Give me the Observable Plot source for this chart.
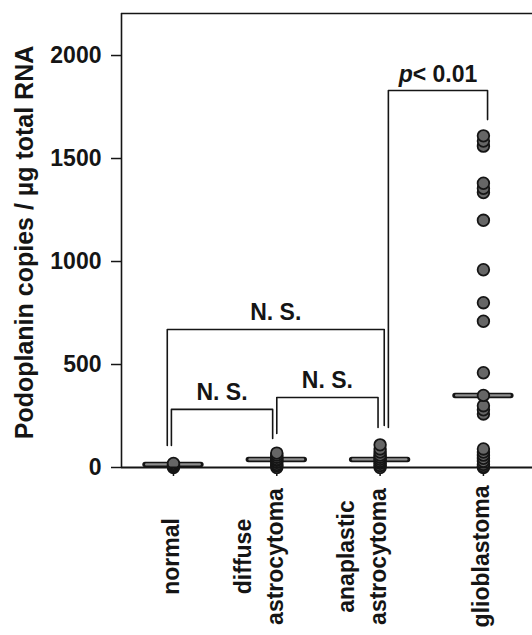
<!DOCTYPE html>
<html><head><meta charset="utf-8">
<script src="https://cdn.jsdelivr.net/npm/d3@7"></script>
<script src="https://cdn.jsdelivr.net/npm/@observablehq/plot@0.6"></script>
<style>body{margin:0;background:#fff} svg{display:block}</style>
</head><body><div id="chart"></div>
<script>
// ---- data ----
const categories = ["normal", "diffuse\nastrocytoma", "anaplastic\nastrocytoma", "glioblastoma"];
const normalValues = [0, 5, 10, 15, 20];
const diffuseValues = [0, 8, 15, 25, 35, 40, 50, 60, 70];
const anaplasticValues = [0, 10, 20, 30, 40, 50, 60, 75, 90, 110];
const glioblastomaValues = [0, 5, 15, 30, 45, 60, 75, 90, 260, 280, 300, 350, 460, 710, 800, 960, 1200, 1335, 1355, 1380, 1560, 1585, 1610];
const medians = [15, 39, 39, 350];
const yTicks = [0, 500, 1000, 1500, 2000];
const yLabel = "Podoplanin copies / µg total RNA";
const compFrom = [0, 1, 0, 2];
const compTo = [1, 2, 2, 3];
const compTop = [282, 340, 670, 1830];
const compLeftEnd = [107, 165, 107, 194];
const compRightEnd = [141, 194, 204, 1689];
const compLabels = ["N. S.", "N. S.", "N. S.", "p< 0.01"];

// ---- build tables ----
const groups = [normalValues, diffuseValues, anaplasticValues, glioblastomaValues];
const points = groups.flatMap((vals, i) => vals.map(v => ({i, v})));
const legShift = [[-0.02, -0.04], [0, -0.02], [-0.06, 0.04], [0.08, 0.04]];
const brackets = compFrom.flatMap((f, k) => {
  const xl = f + legShift[k][0], xr = compTo[k] + legShift[k][1];
  return [
    {k, x: xl, y: compLeftEnd[k]}, {k, x: xl, y: compTop[k]},
    {k, x: xr, y: compTop[k]}, {k, x: xr, y: compRightEnd[k]}
  ];
});
const bracketLabels = compFrom.map((f, k) => ({
  x: (f + legShift[k][0] + compTo[k] + legShift[k][1]) / 2, y: compTop[k], t: compLabels[k]
}));

const xDomain = [-0.503, 3.475];
const yDomain = [0, 2204];
const font = "'Liberation Sans', Arial, Helvetica, sans-serif";
const ink = "#151515";

const chart = Plot.plot({
  width: 532, height: 635,
  marginLeft: 121, marginRight: 0, marginTop: 13, marginBottom: 168,
  x: {type: "linear", domain: xDomain, axis: null},
  y: {type: "linear", domain: yDomain, axis: null},
  style: {fontFamily: font, background: "#fff", overflow: "visible"},
  marks: [
    Plot.ruleX([xDomain[0]], {stroke: ink, strokeWidth: 1.6}),
    Plot.ruleY([yDomain[1]], {stroke: ink, strokeWidth: 1.6}),
    Plot.axisY(yTicks, {tickSize: 10, tickPadding: 10, tickFormat: d3.format("d"), fontSize: 23, fontWeight: "bold", label: null, stroke: ink, strokeWidth: 1.5, fill: ink}),
    Plot.axisX([0, 1, 2, 3], {tickSize: 9, tickFormat: () => "", label: null, stroke: ink, strokeWidth: 1.5}),
    Plot.line(brackets, {x: "x", y: "y", z: "k", stroke: ink, strokeWidth: 1.6}),
    Plot.text(bracketLabels, {x: "x", y: "y", text: "t", textAnchor: "middle", lineAnchor: "bottom", dy: -9, fontSize: 23, fontWeight: "bold", fill: ink}),
    Plot.ruleY(medians, {y: d => d, x1: (d, i) => i - 0.27, x2: (d, i) => i + 0.27, stroke: ink, strokeWidth: 5.5, strokeLinecap: "round"}),
    Plot.ruleY(medians, {y: d => d, x1: (d, i) => i - 0.26, x2: (d, i) => i + 0.26, stroke: "#8f8f8f", strokeWidth: 2.2, strokeLinecap: "round"}),
    Plot.dot(points, {x: "i", y: "v", r: 5.8, fill: "#666", stroke: ink, strokeWidth: 1.8}),
    Plot.ruleY([0], {stroke: ink, strokeWidth: 2.2}),
    Plot.text(categories, {x: (d, i) => i, text: d => d, frameAnchor: "bottom", rotate: -90, textAnchor: "middle", lineAnchor: "bottom", lineHeight: 1.4, dx: 6, dy: 89, fontSize: 23, fontWeight: "bold", fill: ink}),
    Plot.text([yLabel], {text: d => d, frameAnchor: "left", rotate: -90, textAnchor: "middle", lineAnchor: "middle", dx: -97, dy: 2, fontSize: 25, fontWeight: "bold", fill: ink})
  ]
});
document.getElementById("chart").appendChild(chart);
// italic "p" in the significance label
d3.select(chart).selectAll("text").each(function() {
  if (this.textContent === "p< 0.01") {
    const el = d3.select(this);
    el.text(null);
    el.append("tspan").attr("font-style", "italic").text("p");
    el.append("tspan").text("< 0.01");
  }
});
</script>
</body></html>
